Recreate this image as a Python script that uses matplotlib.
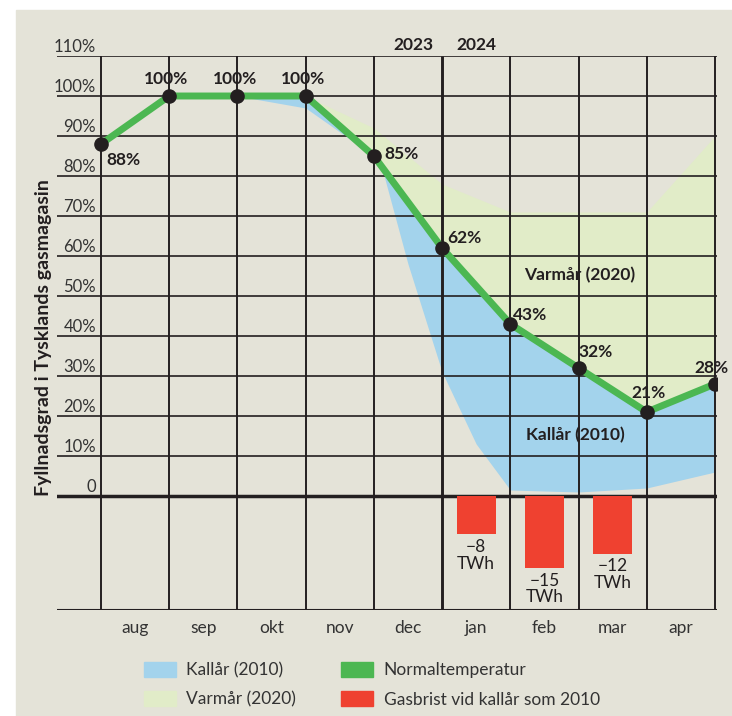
import numpy as np
import matplotlib
matplotlib.use("Agg")
from matplotlib import pyplot as plt
from matplotlib.patches import Patch, Rectangle

plt.rcParams["font.family"] = ["Lato", "DejaVu Sans"]

# data
months = ["aug", "sep", "okt", "nov", "dec", "jan", "feb", "mar", "apr"]
normal = [88, 100, 100, 100, 85, 62, 43, 32, 21, 28]
cold_x = [0, 1, 2, 3, 4, 4.15, 4.5, 5, 5.5, 6, 7, 8, 9]
cold = [88, 100, 100, 97, 85, 80, 58, 31, 13, 1.5, 1, 2, 6]
warm_x = [0, 1, 2, 3, 4, 5, 6, 7, 8, 9]
warm = [88, 100, 100, 100, 92, 78, 71, 71, 71, 90]
shortfall_months = ["jan", "feb", "mar"]
shortfall = [-8, -15, -12]
y_ticks = [0, 10, 20, 30, 40, 50, 60, 70, 80, 90, 100, 110]

BG = "#e4e3d8"
DARK = "#231f20"
BLUE = "#a3d3ec"
LGREEN = "#e1ecc8"
GREEN = "#4cb752"
RED = "#ef4130"

fig = plt.figure(figsize=(7.32, 7.16), dpi=100)
fig.patch.set_facecolor("white")
fig.patches.append(Rectangle((16 / 732, 0), 1 - 16 / 732, 706 / 716,
                             transform=fig.transFigure, color=BG, zorder=-10))

ax = fig.add_axes([57 / 732, 1 - 610 / 716, 660 / 732, 554 / 716])
ax.set_facecolor("none")
ax.set_xlim(-0.645, 9.03)
ax.set_ylim(-28.5, 110)
for s in ax.spines.values():
    s.set_visible(False)
ax.set_xticks([])
ax.set_yticks([])

xs = np.arange(len(normal))
normal_at_cold = np.interp(cold_x, xs, normal)

# fills
ax.fill_between(warm_x, normal, warm, color=LGREEN, lw=0, zorder=1)
ax.fill_between(cold_x, cold, normal_at_cold, color=BLUE, lw=0, zorder=1)

# grid
for y in y_ticks:
    ax.axhline(y, color=DARK, lw=1.2 if y else 2.5, zorder=2)
    ax.text(-0.07, y + 2.3, "%d%%" % y if y else "0", ha="right", va="center",
            fontsize=12, color="#333333")
ax.axhline(-28.5, color=DARK, lw=1.5, zorder=2)
for x in xs:
    ax.plot([x, x], [-28.5, 110], color=DARK, lw=2.1 if x == 5 else 1.4,
            solid_capstyle="butt", zorder=2)

# normal line
ax.plot(xs, normal, color=GREEN, lw=5, zorder=3, solid_joinstyle="miter")
ax.plot(xs, normal, "o", color=DARK, ms=9.5, zorder=4)

lab = dict(fontsize=12.5, fontweight="bold", color=DARK, zorder=5)
ax.text(0.08, 84, "88%", ha="left", va="center", **lab)
for x in [1, 2, 3]:
    ax.text(x - 0.04, 104.2, "100%", ha="center", va="center", **lab)
ax.text(4.15, 85.6, "85%", ha="left", va="center", **lab)
ax.text(5.07, 64.5, "62%", ha="left", va="center", **lab)
ax.text(6.04, 45.2, "43%", ha="left", va="center", **lab)
ax.text(7.25, 36, "32%", ha="center", va="center", **lab)
ax.text(8.03, 25.8, "21%", ha="center", va="center", **lab)
ax.text(9.2, 32, "28%", ha="right", va="center", clip_on=False, **lab)

ax.text(7.02, 55.3, "Varmår (2020)", ha="center", va="center", **lab)
ax.text(6.95, 15.3, "Kallår (2010)", ha="center", va="center", **lab)
ax.text(4.58, 112.8, "2023", ha="center", va="center", clip_on=False, **lab)
ax.text(5.5, 112.8, "2024", ha="center", va="center", clip_on=False, **lab)

for i, m in enumerate(months):
    ax.text(i + 0.5, -33, m, ha="center", va="center", fontsize=12.5,
            color="#333333", clip_on=False)

ax.text(-0.85, 39.5, "Fyllnadsgrad i Tysklands gasmagasin", rotation=90,
        ha="center", va="center", fontsize=14, fontweight="bold", color=DARK,
        clip_on=False)

# shortage bars on own scale
ax2 = ax.twinx()
ax2.set_ylim(-28.5 / 1.2, 110 / 1.2)
ax2.axis("off")
bar_x = [months.index(m) + 0.5 for m in shortfall_months]
ax2.bar(bar_x, shortfall, width=0.57, color=RED, zorder=3)
for bx, v in zip(bar_x, shortfall):
    ax2.text(bx, v - 1.0, "\u2212%d\nTWh" % abs(v), ha="center", va="top",
             fontsize=12.5, color=DARK, linespacing=1.05)

handles = [Patch(color=BLUE, label="Kallår (2010)"),
           Patch(color=LGREEN, label="Varmår (2020)"),
           Patch(color=GREEN, label="Normaltemperatur"),
           Patch(color=RED, label="Gasbrist vid kallår som 2010")]
fig.legend(handles=handles, ncol=2, loc="upper left",
           bbox_to_anchor=(128 / 732, 1 - 646 / 716), frameon=False,
           fontsize=12.5, handlelength=1.85, handleheight=0.95,
           columnspacing=2.6, labelspacing=0.75, handletextpad=0.6)
for t in fig.legends[0].get_texts():
    t.set_color("#333333")

fig.savefig("out.png", dpi=100, facecolor=fig.get_facecolor())
